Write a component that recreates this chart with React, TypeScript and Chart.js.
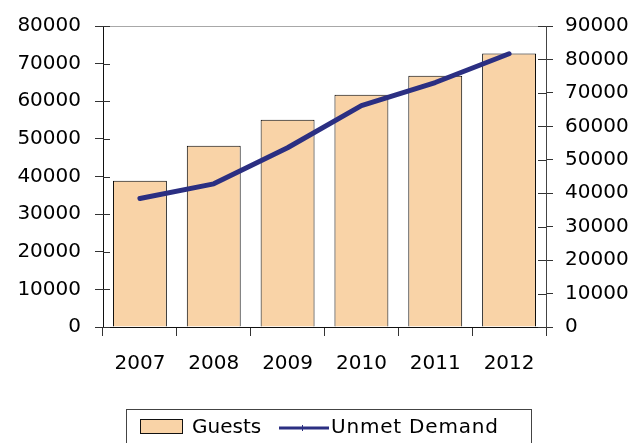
import React, { useEffect, useRef } from "react";
import { Chart, registerables } from "chart.js";

Chart.register(...registerables);

const years = ["2007", "2008", "2009", "2010", "2011", "2012"];
const guests = [38900, 48200, 55100, 61700, 66800, 72700];
const unmetDemand = [38400, 42800, 53600, 66200, 73100, 81700];
const leftTicks = { min: 0, max: 80000, step: 10000 };
const rightTicks = { min: 0, max: 90000, step: 10000 };

const BAR_FILL = "#F9D3A7";
const LINE_COLOR = "#2B2F82";
const FONT = "DejaVu Sans";

const extrasPlugin = {
  id: "extras",
  beforeDatasetsDraw(chart: any) {
    const ctx = chart.ctx;
    const { y } = chart.scales;
    const area = chart.chartArea;
    ctx.save();
    ctx.strokeStyle = "#A8A8A8";
    ctx.lineWidth = 1;
    const py = Math.round(y.getPixelForValue(leftTicks.max)) + 0.5;
    ctx.beginPath();
    ctx.moveTo(area.left, py);
    ctx.lineTo(area.right, py);
    ctx.stroke();
    ctx.restore();
  },
  afterDraw(chart: any) {
    const ctx = chart.ctx;
    const { y, y1 } = chart.scales;
    const area = chart.chartArea;
    ctx.save();
    ctx.strokeStyle = "#333";
    ctx.lineWidth = 1;
    y.ticks.forEach((t: any) => {
      const py = Math.round(y.getPixelForValue(t.value)) + 0.5;
      ctx.beginPath();
      ctx.moveTo(area.left, py);
      ctx.lineTo(area.left + 7, py);
      ctx.stroke();
    });
    y1.ticks.forEach((t: any) => {
      const py = Math.round(y1.getPixelForValue(t.value)) + 0.5;
      ctx.beginPath();
      ctx.moveTo(area.right - 8, py);
      ctx.lineTo(area.right, py);
      ctx.stroke();
    });
    const ds = chart.data.datasets;
    ctx.strokeStyle = "#444";
    ctx.lineWidth = 1;
    ctx.strokeRect(126.5, 409.5, 405, 60);
    ctx.fillStyle = BAR_FILL;
    ctx.fillRect(140.5, 419.5, 42, 14);
    ctx.strokeStyle = "#111";
    ctx.strokeRect(140.5, 419.5, 42, 14);
    ctx.fillStyle = "#000";
    ctx.font = `20px "${FONT}"`;
    ctx.textBaseline = "middle";
    ctx.textAlign = "left";
    ctx.fillText(ds[0].label, 192, 428);
    ctx.strokeStyle = LINE_COLOR;
    ctx.lineWidth = 3;
    ctx.beginPath();
    ctx.moveTo(279, 428);
    ctx.lineTo(329, 428);
    ctx.stroke();
    ctx.lineWidth = 1;
    ctx.beginPath();
    ctx.moveTo(302.5, 425);
    ctx.lineTo(302.5, 431);
    ctx.stroke();
    ctx.fillStyle = "#000";
    (ctx as any).letterSpacing = "0.8px";
    ctx.fillText(ds[1].label, 331, 428);
    ctx.restore();
  },
};

export default function App() {
  const ref = useRef<HTMLCanvasElement | null>(null);
  useEffect(() => {
    if (!ref.current) return;
    Chart.defaults.font.family = FONT;
    Chart.defaults.font.size = 20;
    Chart.defaults.color = "#000";
    const chart = new Chart(ref.current, {
      type: "bar",
      data: {
        labels: years,
        datasets: [
          {
            type: "bar",
            label: "Guests",
            data: guests,
            yAxisID: "y",
            backgroundColor: BAR_FILL,
            borderColor: "#000",
            borderWidth: 1,
            categoryPercentage: 1,
            barPercentage: 0.73,
            order: 2,
          },
          {
            type: "line",
            label: "Unmet Demand",
            data: unmetDemand,
            yAxisID: "y1",
            borderColor: LINE_COLOR,
            borderWidth: 5,
            pointRadius: 0,
            tension: 0,
            borderJoinStyle: "round",
            borderCapStyle: "round",
            order: 1,
          } as any,
        ],
      },
      options: {
        animation: false,
        responsive: false,
        maintainAspectRatio: false,
        layout: { padding: { top: 25, left: 0, right: 0, bottom: 56 } },
        plugins: { legend: { display: false }, tooltip: { enabled: false } },
        scales: {
          x: {
            offset: true,
            grid: { offset: true, drawOnChartArea: false, tickLength: 9, color: "#333" },
            border: { color: "#111", width: 1 },
            ticks: { padding: 16, color: "#000", font: { size: 20 } },
            afterFit: (s: any) => { s.height = 60; },
          },
          y: {
            position: "left",
            min: leftTicks.min,
            max: leftTicks.max,
            ticks: { stepSize: leftTicks.step, padding: 14, color: "#000", callback: (v: any) => String(v) },
            grid: { tickLength: 8, drawOnChartArea: false, color: "#333" },
            border: { color: "#111", width: 1 },
            afterFit: (s: any) => { s.width = 103; },
          },
          y1: {
            position: "right",
            min: rightTicks.min,
            max: rightTicks.max,
            ticks: { stepSize: rightTicks.step, padding: 12, color: "#000", callback: (v: any) => String(v) },
            grid: { drawOnChartArea: false, tickLength: 7, color: "#333" },
            border: { color: "#444", width: 1 },
            afterFit: (s: any) => { s.width = 87; },
          },
        },
      },
      plugins: [extrasPlugin],
    });
    return () => chart.destroy();
  }, []);
  return (
    <div style={{ position: "fixed", left: 0, top: 0, width: 633, height: 443, background: "#fff" }}>
      <canvas ref={ref} width={633} height={443} style={{ width: 633, height: 443 }} />
    </div>
  );
}
